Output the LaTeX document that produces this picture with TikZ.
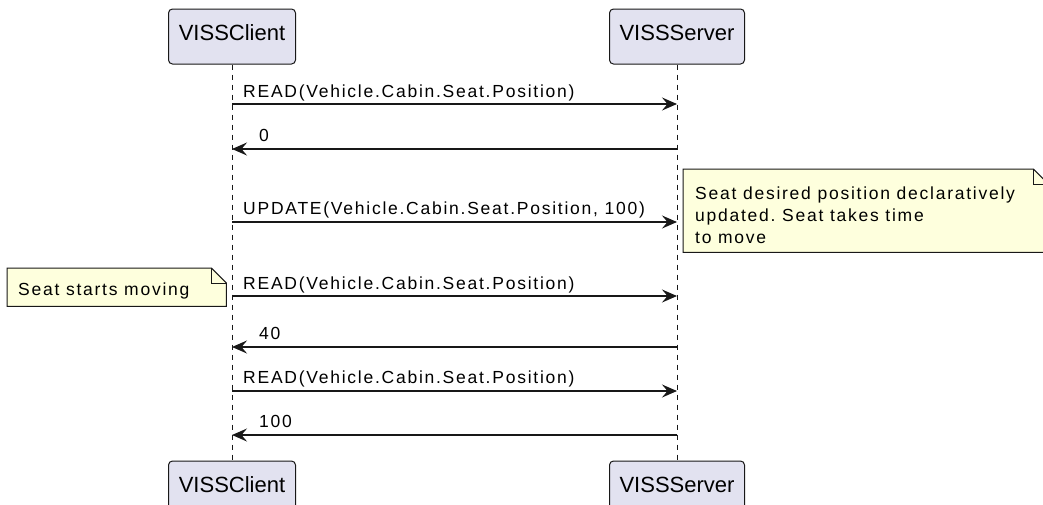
\documentclass[tikz,border=0pt]{standalone}
\usepackage{fontspec}
\setmainfont{Liberation Sans}
\newfontfamily\msgfont[LetterSpace=10]{Liberation Sans}
\usetikzlibrary{arrows.meta,calc}
\definecolor{partfill}{HTML}{E2E2F0}
\definecolor{notefill}{HTML}{FEFFDD}
\definecolor{ink}{HTML}{181818}
\frenchspacing
\begin{document}
\begin{tikzpicture}[x=1pt,y=-1pt,
  participant/.style={draw=ink,fill=partfill,rounded corners=4pt,line width=1pt,
    minimum width=#1,minimum height=55pt,inner sep=0pt,text height=16pt,text depth=9pt,
    font=\fontsize{22}{26}\selectfont,text=black},
  lifeline/.style={draw=ink,line width=0.8pt,dash pattern=on 5pt off 5pt},
  msgarrow/.style={draw=ink,line width=1.3pt,-{Stealth[length=15pt,width=13pt,inset=5.5pt]}},
  msglabel/.style={anchor=base west,inner sep=0pt,font=\msgfont\fontsize{17.5}{21}\selectfont\frenchspacing,text=black},
  notebox/.style={draw=none,inner sep=0pt,anchor=north west},
  noteshape/.style={draw=ink,fill=notefill,line width=1pt,line join=miter},
]
\useasboundingbox (0,0) rectangle (1043,504);
\clip (0,0) rectangle (1043,504);
\fill[white] (0,0) rectangle (1043,504);

% participants
\node[participant=127pt] (ctop) at (232,36.5) {VISSClient};
\node[participant=135pt] (stop) at (677,36.5) {VISSServer};
\node[participant=127pt] (cbot) at (232,488.5) {VISSClient};
\node[participant=135pt] (sbot) at (677,488.5) {VISSServer};

% lifelines
\draw[lifeline] (ctop.south) -- (cbot.north);
\draw[lifeline] (stop.south) -- (sbot.north);

% message end points
\coordinate (c1) at (232,104); \coordinate (s1) at (677,104);
\coordinate (c2) at (232,149); \coordinate (s2) at (677,149);
\coordinate (c3) at (232,222); \coordinate (s3) at (677,222);
\coordinate (c4) at (232,296); \coordinate (s4) at (677,296);
\coordinate (c5) at (232,347); \coordinate (s5) at (677,347);
\coordinate (c6) at (232,391); \coordinate (s6) at (677,391);
\coordinate (c7) at (232,435); \coordinate (s7) at (677,435);

\draw[msgarrow] (c1) -- (s1);
\draw[msgarrow] (s2) -- (c2);
\draw[msgarrow] (c3) -- (s3);
\draw[msgarrow] (c4) -- (s4);
\draw[msgarrow] (s5) -- (c5);
\draw[msgarrow] (c6) -- (s6);
\draw[msgarrow] (s7) -- (c7);

\node[msglabel] (l1) at (243,97) {READ(Vehicle.Cabin.Seat.Position)};
\node[msglabel] (l2) at (259,141) {0};
\node[msglabel] (l3) at (243,214) {UPDATE(Vehicle.Cabin.Seat.Position, 100)};
\node[msglabel] (l4) at (243,289) {READ(Vehicle.Cabin.Seat.Position)};
\node[msglabel] (l5) at (259,339) {40};
\node[msglabel] (l6) at (243,383) {READ(Vehicle.Cabin.Seat.Position)};
\node[msglabel] (l7) at (259,427) {100};

% note 1 (right)
\node[notebox,minimum width=365pt,minimum height=83pt] (n1) at (683,169) {};
\draw[noteshape] (n1.north west) -- ($(n1.north east)+(-15,0)$) -- ($(n1.north east)+(0,15)$)
  -- (n1.south east) -- (n1.south west) -- cycle;
\draw[draw=ink,line width=1pt] ($(n1.north east)+(-15,0)$) -- ($(n1.north east)+(-15,15)$) -- ($(n1.north east)+(0,15)$);
\node[msglabel] (n1a) at (695,199) {Seat desired position declaratively};
\node[msglabel] (n1b) at (695,221) {updated. Seat takes time};
\node[msglabel] (n1c) at (695,243) {to move};

% note 2 (left)
\node[notebox,minimum width=219pt,minimum height=38pt] (n2) at (7,268) {};
\draw[noteshape] (n2.north west) -- ($(n2.north east)+(-15,0)$) -- ($(n2.north east)+(0,15)$)
  -- (n2.south east) -- (n2.south west) -- cycle;
\draw[draw=ink,line width=1pt] ($(n2.north east)+(-15,0)$) -- ($(n2.north east)+(-15,15)$) -- ($(n2.north east)+(0,15)$);
\node[msglabel] (n2a) at (18,295) {Seat starts moving};
\end{tikzpicture}
\end{document}
